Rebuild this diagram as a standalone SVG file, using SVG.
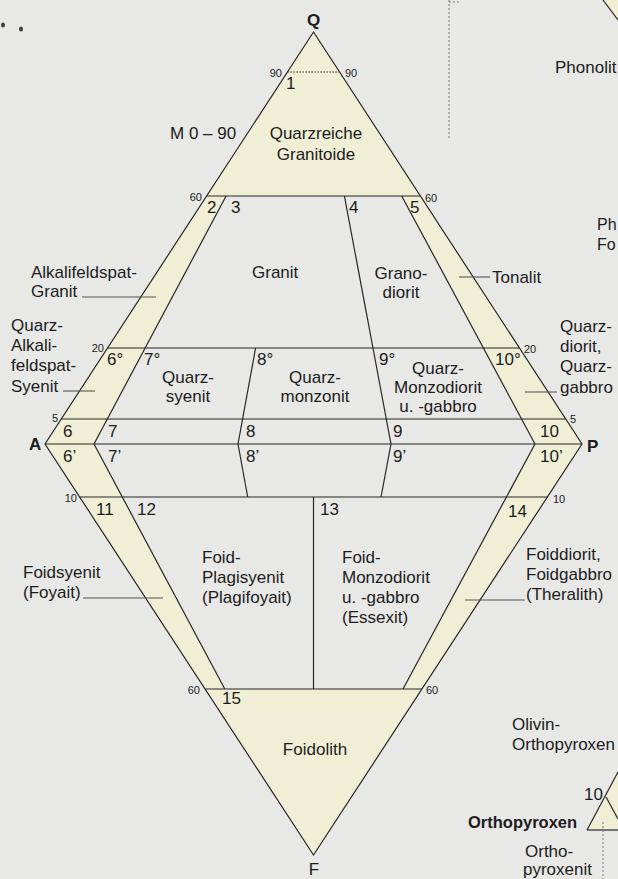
<svg xmlns="http://www.w3.org/2000/svg" width="618" height="879" viewBox="0 0 618 879">
<defs>
<style>
.t{font-family:"Liberation Sans",Arial,sans-serif;font-size:17px;fill:#1c1c1c}
.s{font-family:"Liberation Sans",Arial,sans-serif;font-size:11px;fill:#1c1c1c}
.b{font-family:"Liberation Sans",Arial,sans-serif;font-size:17px;font-weight:bold;fill:#1c1c1c}
.c{text-anchor:middle}
.e{text-anchor:end}
.ln{stroke:#262626;stroke-width:1.2;fill:none}
.ld{stroke:#555;stroke-width:1.1;fill:none}
.y{fill:#f0efd6;stroke:none}
.dash{stroke:#777;stroke-width:1;stroke-dasharray:2 2;fill:none}
</style>
</defs>
<rect x="0" y="0" width="618" height="879" fill="#e8e8e6"/>
<ellipse cx="3" cy="25" rx="2" ry="2.5" fill="#3c4030"/>
<ellipse cx="21" cy="29" rx="2" ry="2.5" fill="#3c4030"/>

<g id="fills">
<polygon class="y" points="313.5,32 206.6,196 420.4,196"/>
<polygon class="y" points="206.6,196 226.1,196 94,444 45,444"/>
<polygon class="y" points="45,444 94,444 224.8,689 205.1,689"/>
<polygon class="y" points="401.7,196 420.4,196 582,444 535,444"/>
<polygon class="y" points="535,444 582,444 421.9,689 403,689"/>
<polygon class="y" points="205.1,689 421.9,689 313.5,855"/>
<polygon class="y" points="603,0 618,0 618,20"/>
<polygon class="y" points="587,830 618,772 618,830"/>
</g>

<g id="connectors">
<polygon class="ln" points="313.5,32 582,444 313.5,855 45,444"/>
<line class="ln" x1="287.4" y1="72" x2="339.6" y2="72" stroke-dasharray="1.5 1.5"/>
<line class="ln" x1="206.6" y1="196" x2="420.4" y2="196"/>
<line class="ln" x1="107.6" y1="348" x2="519.4" y2="348"/>
<line class="ln" x1="61.3" y1="419" x2="565.7" y2="419"/>
<line class="ln" x1="45" y1="444" x2="582" y2="444"/>
<line class="ln" x1="79.6" y1="497" x2="547.4" y2="497"/>
<line class="ln" x1="205.1" y1="689" x2="421.9" y2="689"/>
<line class="ln" x1="226.1" y1="196" x2="94" y2="444"/>
<line class="ln" x1="255.6" y1="348" x2="238" y2="444"/>
<line class="ln" x1="344.4" y1="196" x2="391" y2="444"/>
<line class="ln" x1="401.7" y1="196" x2="535" y2="444"/>
<line class="ln" x1="94" y1="444" x2="224.8" y2="689"/>
<line class="ln" x1="238" y1="444" x2="247.7" y2="497"/>
<line class="ln" x1="391" y1="444" x2="381" y2="497"/>
<line class="ln" x1="535" y1="444" x2="403" y2="689"/>
<line class="ln" x1="313.5" y1="497" x2="313.5" y2="689"/>
<line class="ld" x1="82" y1="297" x2="156" y2="297"/>
<line class="ld" x1="63" y1="391" x2="95" y2="391"/>
<line class="ld" x1="459" y1="277" x2="490" y2="277"/>
<line class="ld" x1="525" y1="392" x2="557" y2="392"/>
<line class="ld" x1="83" y1="598" x2="163" y2="598"/>
<line class="ld" x1="465" y1="600" x2="525" y2="600"/>
<line class="dash" x1="449" y1="0" x2="449" y2="140"/>
<line class="dash" x1="449" y1="2" x2="461" y2="2"/>
<line class="ln" x1="603" y1="0" x2="618" y2="20"/>
<line class="ln" x1="587" y1="830" x2="618" y2="772"/>
<line class="ln" x1="587" y1="830" x2="618" y2="830"/>
<line class="ln" x1="606" y1="797" x2="618" y2="819"/>
<line class="dash" x1="603" y1="822" x2="603" y2="879"/>
</g>

<g id="vertices">
<text class="b c" x="313.5" y="26">Q</text>
<text class="b" x="29" y="450">A</text>
<text class="b" x="587" y="452">P</text>
<text class="t c" x="314" y="875">F</text>
</g>

<g id="scale-labels">
<text class="s e" x="282" y="77">90</text>
<text class="s" x="345" y="77">90</text>
<text class="s e" x="202" y="201">60</text>
<text class="s" x="425" y="202">60</text>
<text class="s e" x="104" y="352">20</text>
<text class="s" x="524" y="353">20</text>
<text class="s e" x="58" y="422">5</text>
<text class="s" x="570" y="423">5</text>
<text class="s e" x="77" y="502">10</text>
<text class="s" x="553" y="503">10</text>
<text class="s e" x="200" y="694">60</text>
<text class="s" x="426" y="694">60</text>
<text class="t" x="170" y="139">M 0 – 90</text>
</g>

<g id="field-1">
<text class="t" x="286" y="89">1</text>
<text class="t c" x="316" y="139">Quarzreiche</text>
<text class="t c" x="316" y="160">Granitoide</text>
</g>
<g id="field-2">
<text class="t" x="207" y="213">2</text>
<text class="t" x="31" y="278">Alkalifeldspat-</text>
<text class="t" x="31" y="297">Granit</text>
</g>
<g id="field-3">
<text class="t" x="231" y="213">3</text>
<text class="t" x="252" y="278">Granit</text>
</g>
<g id="field-4">
<text class="t" x="349" y="213">4</text>
<text class="t c" x="401" y="279">Grano-</text>
<text class="t c" x="401" y="298">diorit</text>
</g>
<g id="field-5">
<text class="t" x="410" y="213">5</text>
<text class="t" x="492" y="283">Tonalit</text>
</g>
<g id="field-6o">
<text class="t" x="107" y="365">6°</text>
<text class="t" x="11" y="331">Quarz-</text>
<text class="t" x="11" y="351">Alkali-</text>
<text class="t" x="11" y="371">feldspat-</text>
<text class="t" x="11" y="392">Syenit</text>
</g>
<g id="field-7o">
<text class="t" x="144" y="365">7°</text>
<text class="t c" x="188" y="383">Quarz-</text>
<text class="t c" x="188" y="402">syenit</text>
</g>
<g id="field-8o">
<text class="t" x="257" y="365">8°</text>
<text class="t c" x="315" y="383">Quarz-</text>
<text class="t c" x="315" y="402">monzonit</text>
</g>
<g id="field-9o">
<text class="t" x="379" y="365">9°</text>
<text class="t c" x="438" y="374">Quarz-</text>
<text class="t c" x="438" y="393">Monzodiorit</text>
<text class="t c" x="438" y="412">u. -gabbro</text>
</g>
<g id="field-10o">
<text class="t" x="495" y="365">10°</text>
<text class="t" x="560" y="332">Quarz-</text>
<text class="t" x="560" y="352">diorit,</text>
<text class="t" x="560" y="372">Quarz-</text>
<text class="t" x="560" y="393">gabbro</text>
</g>
<g id="field-6"><text class="t" x="63" y="437">6</text></g>
<g id="field-7"><text class="t" x="108" y="437">7</text></g>
<g id="field-8"><text class="t" x="246" y="437">8</text></g>
<g id="field-9"><text class="t" x="393" y="437">9</text></g>
<g id="field-10"><text class="t" x="540" y="437">10</text></g>
<g id="field-6p"><text class="t" x="63" y="462">6’</text></g>
<g id="field-7p"><text class="t" x="108" y="462">7’</text></g>
<g id="field-8p"><text class="t" x="246" y="462">8’</text></g>
<g id="field-9p"><text class="t" x="393" y="462">9’</text></g>
<g id="field-10p"><text class="t" x="540" y="462">10’</text></g>
<g id="field-11">
<text class="t" x="96" y="515">11</text>
<text class="t" x="23" y="578">Foidsyenit</text>
<text class="t" x="23" y="598">(Foyait)</text>
</g>
<g id="field-12">
<text class="t" x="137" y="515">12</text>
<text class="t" x="202" y="563">Foid-</text>
<text class="t" x="202" y="583">Plagisyenit</text>
<text class="t" x="202" y="603">(Plagifoyait)</text>
</g>
<g id="field-13">
<text class="t" x="320" y="515">13</text>
<text class="t" x="342" y="563">Foid-</text>
<text class="t" x="342" y="583">Monzodiorit</text>
<text class="t" x="342" y="603">u. -gabbro</text>
<text class="t" x="342" y="623">(Essexit)</text>
</g>
<g id="field-14">
<text class="t" x="508" y="517">14</text>
<text class="t" x="526" y="560">Foiddiorit,</text>
<text class="t" x="526" y="580">Foidgabbro</text>
<text class="t" x="526" y="600">(Theralith)</text>
</g>
<g id="field-15">
<text class="t" x="222" y="704">15</text>
<text class="t c" x="315" y="755">Foidolith</text>
</g>

<g id="side-texts">
<text class="t" x="555" y="73">Phonolit</text>
<text class="t" x="597" y="230" style="font-size:16px">Ph</text>
<text class="t" x="597" y="250" style="font-size:16px">Fo</text>
<text class="t" x="512" y="730">Olivin-</text>
<text class="t" x="512" y="750">Orthopyroxen</text>
<text class="t" x="584" y="800">10</text>
<text class="b" x="468" y="828" style="font-size:16.5px">Orthopyroxen</text>
<text class="t" x="525" y="857">Ortho-</text>
<text class="t" x="523" y="875">pyroxenit</text>
</g>
</svg>
